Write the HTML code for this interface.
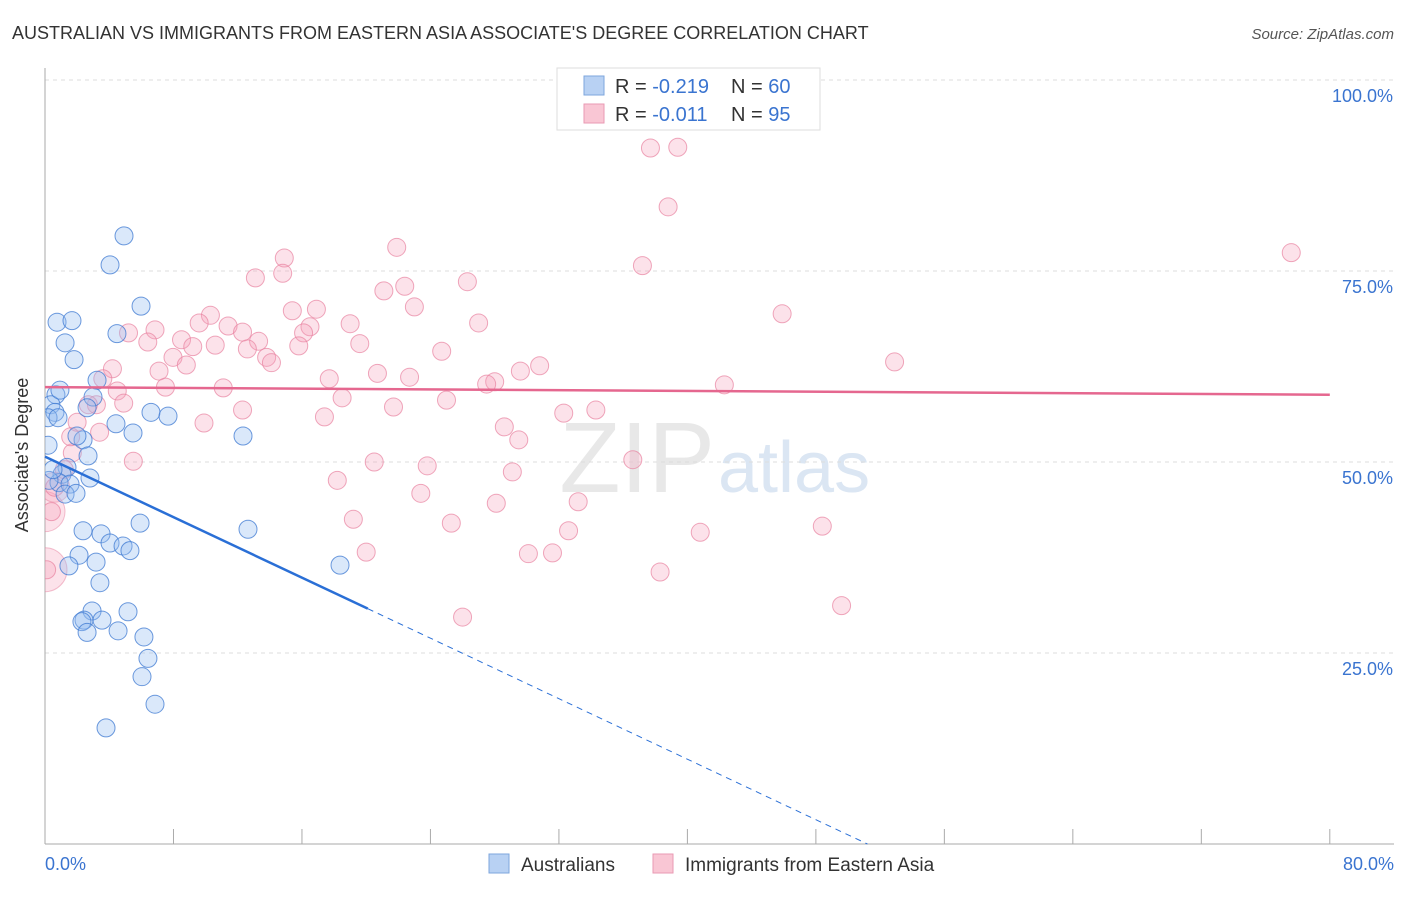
<!DOCTYPE html>
<html><head><meta charset="utf-8"><style>
body{margin:0;background:#fff;font-family:"Liberation Sans",sans-serif;}
svg text{font-family:"Liberation Sans",sans-serif;}
</style></head><body>
<svg id="c" width="1406" height="892">
<defs><clipPath id="plot"><rect x="45" y="60" width="1360" height="784"/></clipPath></defs>
<text x="12" y="39" font-size="18" fill="#333">AUSTRALIAN VS IMMIGRANTS FROM EASTERN ASIA ASSOCIATE'S DEGREE CORRELATION CHART</text>
<text x="1394" y="39" font-size="15" fill="#555" font-style="italic" text-anchor="end">Source: ZipAtlas.com</text>
<text x="715" y="492" font-size="100" fill="#e8e8e8" text-anchor="end" font-family="Liberation Serif">ZIP</text>
<text x="718" y="492" font-size="72" fill="#dbe6f3">atlas</text>
<g id="grid"></g><g id="pts" clip-path="url(#plot)"></g><g id="lines"></g>
<text x="28" y="455" font-size="18" fill="#333" text-anchor="middle" transform="rotate(-90 28 455)">Associate's Degree</text>
<g>
<rect x="557" y="68" width="263" height="62" fill="#fff" stroke="#ddd"/>
<rect x="584" y="76" width="20" height="19" fill="#b8d1f3" stroke="#7ea6dc"/>
<rect x="584" y="104" width="20" height="19" fill="#f9c6d4" stroke="#e99ab3"/>
<text x="615" y="93" font-size="20" fill="#333">R = <tspan fill="#3a74d0">-0.219</tspan></text>
<text x="731" y="93" font-size="20" fill="#333">N = <tspan fill="#3a74d0">60</tspan></text>
<text x="615" y="121" font-size="20" fill="#333">R = <tspan fill="#3a74d0">-0.011</tspan></text>
<text x="731" y="121" font-size="20" fill="#333">N = <tspan fill="#3a74d0"> 95</tspan></text>
</g>
<g>
<rect x="489" y="854" width="20" height="19" fill="#b8d1f3" stroke="#7ea6dc"/>
<text x="521" y="871" font-size="19" fill="#333">Australians</text>
<rect x="653" y="854" width="20" height="19" fill="#f9c6d4" stroke="#e99ab3"/>
<text x="685" y="871" font-size="19" fill="#333">Immigrants from Eastern Asia</text>
</g>
</svg>
<script>
const yTicks=[25,50,75,100];
const yTickLabels=["25.0%","50.0%","75.0%","100.0%"];
const xEnds=["0.0%","80.0%"];
const blueX=[4.92,4.05,5.98,0.75,1.68,1.25,4.48,1.81,3.24,0.68,0.37,0.62,0.19,0.81,2.99,2.62,6.6,7.66,12.33,5.48,4.42,2.37,1.99,2.68,0.19,1.37,1.06,0.87,1.56,2.8,1.25,1.93,5.92,2.37,3.49,4.05,4.86,5.29,2.12,3.18,1.49,3.42,12.64,18.37,2.93,5.17,2.43,2.3,3.55,2.62,4.55,6.16,6.41,6.04,6.85,3.8,0.25,0.5,0.93];
const blueY=[79.6,75.8,70.4,68.3,68.5,65.6,66.8,63.4,60.7,58.8,57.5,56.5,55.8,55.8,58.5,57.1,56.5,56.0,53.4,53.8,55.0,52.9,53.4,50.8,52.2,49.3,48.4,47.3,47.1,47.9,45.8,45.9,42.0,41.0,40.6,39.4,39.0,38.4,37.8,36.9,36.4,34.2,41.2,36.5,30.5,30.4,29.3,29.1,29.3,27.7,27.9,27.1,24.3,21.9,18.3,15.2,47.6,49.0,59.4];
const pinkX=[37.7,39.4,38.8,77.6,21.9,37.2,14.9,14.8,13.1,26.3,22.4,21.1,23.0,16.9,15.4,45.9,10.3,9.6,27.0,19.0,11.4,16.5,16.1,6.85,5.2,12.3,8.5,6.4,13.3,19.6,10.6,9.2,15.8,12.6,24.7,7.97,13.8,14.1,8.8,30.8,52.9,4.2,7.1,29.6,20.7,22.7,3.6,17.7,28.0,27.5,7.5,11.1,42.3,4.5,18.5,25.0,3.2,4.9,21.7,34.3,12.3,32.3,17.4,9.9,2.0,3.4,28.6,29.5,1.7,5.5,20.5,36.6,23.8,29.1,18.2,23.4,33.2,28.1,19.2,25.3,48.4,32.6,40.8,20.0,30.1,31.6,38.3,49.6,26.0,0.4,0.1,0.6,2.7,1.6,1.2];
const pinkY=[91.1,91.2,83.4,77.4,78.1,75.7,76.7,74.7,74.1,73.6,73.0,72.4,70.3,70.0,69.8,69.4,69.2,68.2,68.2,68.1,67.8,67.7,66.9,67.3,66.9,67.0,66.0,65.7,65.8,65.5,65.3,65.1,65.2,64.8,64.5,63.7,63.7,63.0,62.7,62.6,63.1,62.2,61.9,61.9,61.6,61.1,60.9,60.9,60.5,60.2,59.8,59.7,60.1,59.3,58.4,58.1,57.5,57.7,57.2,56.8,56.8,56.4,55.9,55.1,55.2,53.9,54.6,52.9,51.2,50.1,50.0,50.3,49.5,48.7,47.6,45.9,44.8,44.6,42.5,42.0,41.6,41.0,40.8,38.2,38.0,38.1,35.6,31.2,29.7,43.5,35.9,46.7,57.5,53.3,49.0];
const pinkBig=[[0,43.5,20],[0,35.9,22],[0.6,46.7,15]];
const blueTrend=[50.7,-0.99];const pinkTrend=[59.8,-0.0125];
const X=v=>45+v*16.06, Y=v=>844-v*7.64;
const NS="http://www.w3.org/2000/svg";
function mk(t,a,p){const e=document.createElementNS(NS,t);for(const k in a)e.setAttribute(k,a[k]);p.appendChild(e);return e;}
const g=document.getElementById('grid');
yTicks.forEach((t,i)=>{
 const l=mk('line',{x1:45,x2:1394,y1:Y(t),y2:Y(t),stroke:'#ddd','stroke-dasharray':'4,4'},g);
 
 
 const tx=mk('text',{x:1393,y:Y(t)+22,'font-size':18,fill:'#3a74d0','text-anchor':'end'},g);tx.textContent=yTickLabels[i];
 
 
});
const ax=mk('line',{x1:45,x2:45,y1:68,y2:844,stroke:'#aaa'},g);


const bx=mk('line',{x1:45,x2:1394,y1:844,y2:844,stroke:'#aaa'},g);


for(let i=0;i<=10;i++){const t=mk('line',{x1:X(i*8),x2:X(i*8),y1:829,y2:844,stroke:'#aaa'},g);
 
 }
[[0,'start',45],[80,'end',1394]].forEach((d,i)=>{const t=mk('text',{x:d[2],y:870,'font-size':18,fill:'#3a74d0','text-anchor':d[1]},g);t.textContent=xEnds[i];
 
 });
const p=document.getElementById('pts');
pinkBig.forEach(d=>{const c=mk('circle',{cx:X(d[0]),cy:Y(d[1]),r:d[2],fill:'rgba(244,160,186,0.3)',stroke:'rgba(232,130,160,0.5)'},p);
 
 });
pinkX.forEach((x,i)=>{const c=mk('circle',{cx:X(x),cy:Y(pinkY[i]),r:9,fill:'rgba(244,160,186,0.3)',stroke:'rgba(232,130,160,0.7)','stroke-width':1},p);
 
 });
blueX.forEach((x,i)=>{const c=mk('circle',{cx:X(x),cy:Y(blueY[i]),r:9,fill:'rgba(150,190,240,0.35)',stroke:'rgba(60,120,210,0.75)','stroke-width':1},p);
 
 });
const L=document.getElementById('lines');
const bz=-blueTrend[0]/blueTrend[1];
const b1=mk('line',{x1:X(0),y1:Y(blueTrend[0]),x2:X(20.1),y2:Y(blueTrend[0]+blueTrend[1]*20.1),stroke:'#2a6fd6','stroke-width':2.5},L);


const b2=mk('line',{x1:X(20.1),y1:Y(blueTrend[0]+blueTrend[1]*20.1),x2:X(bz),y2:Y(0),stroke:'#2a6fd6','stroke-width':1,'stroke-dasharray':'6,5'},L);


const pl=mk('line',{x1:X(0),y1:Y(pinkTrend[0]),x2:X(80),y2:Y(pinkTrend[0]+pinkTrend[1]*80),stroke:'#e5678f','stroke-width':2.5},L);


</script>
</body></html>
